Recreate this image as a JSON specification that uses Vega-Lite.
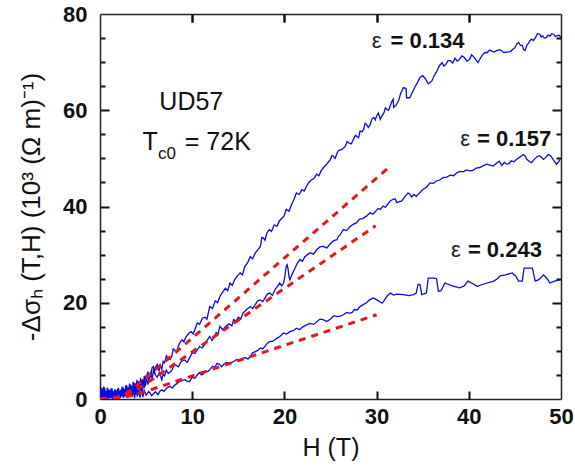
{
  "$schema": "https://vega.github.io/schema/vega-lite/v6.json",
  "width": 461,
  "height": 385,
  "autosize": {"type": "none"},
  "padding": {"left": 100, "top": 14, "right": 14, "bottom": 71},
  "background": "white",
  "config": {"view": {"stroke": null}},
  "datasets": {
    "curves": [
      {"eps":"0.134","H":0,"v":1.5},{"eps":"0.134","H":0.1,"v":0.1},{"eps":"0.134","H":0.2,"v":2.3},{"eps":"0.134","H":0.3,"v":0.4},{"eps":"0.134","H":0.4,"v":2.6},{"eps":"0.134","H":0.5,"v":0.2},{"eps":"0.134","H":0.6,"v":1.7},{"eps":"0.134","H":0.7,"v":0.5},{"eps":"0.134","H":0.8,"v":2.4},{"eps":"0.134","H":0.9,"v":0.1},{"eps":"0.134","H":1.0,"v":1.9},{"eps":"0.134","H":1.1,"v":0.6},{"eps":"0.134","H":1.2,"v":2.2},{"eps":"0.134","H":1.3,"v":0.2},{"eps":"0.134","H":1.4,"v":1.6},{"eps":"0.134","H":1.5,"v":0.4},{"eps":"0.134","H":1.6,"v":2.0},{"eps":"0.134","H":1.7,"v":0.1},{"eps":"0.134","H":1.8,"v":1.5},{"eps":"0.134","H":1.9,"v":0.5},{"eps":"0.134","H":2.0,"v":2.3},{"eps":"0.134","H":2.1,"v":0.3},{"eps":"0.134","H":2.2,"v":1.8},{"eps":"0.134","H":2.3,"v":0.7},{"eps":"0.134","H":2.4,"v":2.6},{"eps":"0.134","H":2.5,"v":0.4},{"eps":"0.134","H":2.6,"v":2.1},{"eps":"0.134","H":2.7,"v":0.8},{"eps":"0.134","H":2.8,"v":2.9},{"eps":"0.134","H":2.9,"v":0.6},{"eps":"0.134","H":3.0,"v":2.4},{"eps":"0.134","H":3.1,"v":1.0},{"eps":"0.134","H":3.2,"v":3.2},{"eps":"0.134","H":3.3,"v":0.7},{"eps":"0.134","H":3.4,"v":2.8},{"eps":"0.134","H":3.5,"v":1.2},{"eps":"0.134","H":3.6,"v":3.6},{"eps":"0.134","H":3.7,"v":1.0},{"eps":"0.134","H":3.8,"v":3.3},{"eps":"0.134","H":3.9,"v":1.5},{"eps":"0.134","H":4.0,"v":4.0},{"eps":"0.134","H":4.1,"v":1.4},{"eps":"0.134","H":4.2,"v":3.7},{"eps":"0.134","H":4.3,"v":2.0},{"eps":"0.134","H":4.4,"v":4.4},{"eps":"0.134","H":4.5,"v":1.8},{"eps":"0.134","H":4.6,"v":4.1},{"eps":"0.134","H":4.7,"v":2.5},{"eps":"0.134","H":4.8,"v":4.8},{"eps":"0.134","H":4.9,"v":2.7},
      {"eps":"0.134","H":5.0,"v":3.5},{"eps":"0.134","H":5.2,"v":5.7},{"eps":"0.134","H":5.35,"v":4.2},{"eps":"0.134","H":5.5,"v":4.8},{"eps":"0.134","H":5.65,"v":6.5},{"eps":"0.134","H":5.8,"v":6.7},{"eps":"0.134","H":5.9,"v":5.2},{"eps":"0.134","H":6.0,"v":6.5},{"eps":"0.134","H":6.2,"v":7.2},{"eps":"0.134","H":6.4,"v":5.8},{"eps":"0.134","H":6.55,"v":7.0},{"eps":"0.134","H":6.7,"v":6.2},{"eps":"0.134","H":6.85,"v":7.8},{"eps":"0.134","H":7.0,"v":7.5},{"eps":"0.134","H":7.2,"v":9.0},{"eps":"0.134","H":7.4,"v":8.5},{"eps":"0.134","H":7.6,"v":8.2},{"eps":"0.134","H":7.8,"v":9.0},{"eps":"0.134","H":7.95,"v":10.4},{"eps":"0.134","H":8.1,"v":10.2},{"eps":"0.134","H":8.3,"v":9.7},{"eps":"0.134","H":8.5,"v":11.0},{"eps":"0.134","H":8.7,"v":11.8},{"eps":"0.134","H":8.9,"v":12.3},{"eps":"0.134","H":9.1,"v":11.9},{"eps":"0.134","H":9.3,"v":12.8},{"eps":"0.134","H":9.6,"v":13.6},{"eps":"0.134","H":9.9,"v":14.0},{"eps":"0.134","H":10.1,"v":13.5},{"eps":"0.134","H":10.3,"v":14.5},{"eps":"0.134","H":10.55,"v":15.8},{"eps":"0.134","H":10.8,"v":15.5},{"eps":"0.134","H":11.1,"v":16.8},{"eps":"0.134","H":11.4,"v":17.0},{"eps":"0.134","H":11.6,"v":16.6},{"eps":"0.134","H":11.9,"v":19.2},{"eps":"0.134","H":12.2,"v":18.8},{"eps":"0.134","H":12.5,"v":20.4},{"eps":"0.134","H":12.75,"v":20.0},{"eps":"0.134","H":13.0,"v":21.3},{"eps":"0.134","H":13.3,"v":22.2},{"eps":"0.134","H":13.6,"v":23.0},{"eps":"0.134","H":13.85,"v":22.5},{"eps":"0.134","H":14.1,"v":24.1},{"eps":"0.134","H":14.35,"v":23.6},{"eps":"0.134","H":14.6,"v":24.8},{"eps":"0.134","H":14.9,"v":25.6},{"eps":"0.134","H":15.2,"v":26.2},{"eps":"0.134","H":15.45,"v":25.8},{"eps":"0.134","H":15.7,"v":27.5},{"eps":"0.134","H":16.0,"v":28.3},{"eps":"0.134","H":16.3,"v":29.6},{"eps":"0.134","H":16.55,"v":29.1},{"eps":"0.134","H":16.8,"v":30.2},{"eps":"0.134","H":17.1,"v":31.0},{"eps":"0.134","H":17.4,"v":31.7},{"eps":"0.134","H":17.55,"v":33.6},{"eps":"0.134","H":17.7,"v":33.5},{"eps":"0.134","H":17.9,"v":33.0},{"eps":"0.134","H":18.1,"v":34.5},{"eps":"0.134","H":18.35,"v":35.2},{"eps":"0.134","H":18.6,"v":34.8},{"eps":"0.134","H":18.9,"v":36.2},{"eps":"0.134","H":19.2,"v":35.9},{"eps":"0.134","H":19.45,"v":37.0},{"eps":"0.134","H":19.7,"v":37.5},{"eps":"0.134","H":19.95,"v":38.0},{"eps":"0.134","H":20.2,"v":39.4},{"eps":"0.134","H":20.5,"v":39.0},{"eps":"0.134","H":20.8,"v":40.5},{"eps":"0.134","H":21.05,"v":41.5},{"eps":"0.134","H":21.3,"v":42.8},{"eps":"0.134","H":21.6,"v":42.5},{"eps":"0.134","H":21.9,"v":43.5},{"eps":"0.134","H":22.15,"v":43.2},{"eps":"0.134","H":22.4,"v":44.2},{"eps":"0.134","H":22.65,"v":45.0},{"eps":"0.134","H":22.9,"v":45.5},{"eps":"0.134","H":23.2,"v":45.8},{"eps":"0.134","H":23.5,"v":46.7},{"eps":"0.134","H":23.75,"v":46.4},{"eps":"0.134","H":24.0,"v":47.5},{"eps":"0.134","H":24.3,"v":48.2},{"eps":"0.134","H":24.6,"v":48.8},{"eps":"0.134","H":24.8,"v":49.3},{"eps":"0.134","H":25.0,"v":49.8},{"eps":"0.134","H":25.15,"v":50.6},{"eps":"0.134","H":25.3,"v":50.5},{"eps":"0.134","H":25.5,"v":50.0},{"eps":"0.134","H":25.7,"v":51.0},{"eps":"0.134","H":25.85,"v":51.6},{"eps":"0.134","H":26.0,"v":51.7},{"eps":"0.134","H":26.3,"v":51.9},{"eps":"0.134","H":26.6,"v":52.5},{"eps":"0.134","H":26.8,"v":53.5},{"eps":"0.134","H":27.0,"v":53.2},{"eps":"0.134","H":27.25,"v":53.0},{"eps":"0.134","H":27.5,"v":54.0},{"eps":"0.134","H":27.7,"v":54.8},{"eps":"0.134","H":27.9,"v":54.5},{"eps":"0.134","H":28.05,"v":54.3},{"eps":"0.134","H":28.2,"v":55.7},{"eps":"0.134","H":28.4,"v":55.5},{"eps":"0.134","H":28.6,"v":56.0},{"eps":"0.134","H":28.75,"v":57.3},{"eps":"0.134","H":28.9,"v":57.1},{"eps":"0.134","H":29.1,"v":56.4},{"eps":"0.134","H":29.3,"v":57.0},{"eps":"0.134","H":29.5,"v":58.2},{"eps":"0.134","H":29.7,"v":58.5},{"eps":"0.134","H":29.85,"v":58.0},{"eps":"0.134","H":30.0,"v":58.8},{"eps":"0.134","H":30.2,"v":59.4},{"eps":"0.134","H":30.4,"v":58.1},{"eps":"0.134","H":30.6,"v":58.9},{"eps":"0.134","H":30.8,"v":59.5},{"eps":"0.134","H":30.95,"v":60.5},{"eps":"0.134","H":31.1,"v":60.2},{"eps":"0.134","H":31.3,"v":60.0},{"eps":"0.134","H":31.5,"v":61.0},{"eps":"0.134","H":31.65,"v":61.8},{"eps":"0.134","H":31.8,"v":62.3},{"eps":"0.134","H":31.85,"v":60.6},{"eps":"0.134","H":32.1,"v":61.0},{"eps":"0.134","H":32.4,"v":62.0},{"eps":"0.134","H":32.6,"v":63.5},{"eps":"0.134","H":32.9,"v":64.7},{"eps":"0.134","H":33.2,"v":64.5},{"eps":"0.134","H":33.25,"v":62.6},{"eps":"0.134","H":33.6,"v":62.6},{"eps":"0.134","H":33.9,"v":63.8},{"eps":"0.134","H":34.2,"v":65.0},{"eps":"0.134","H":34.45,"v":65.8},{"eps":"0.134","H":34.7,"v":66.8},{"eps":"0.134","H":35.0,"v":67.2},{"eps":"0.134","H":35.3,"v":66.5},{"eps":"0.134","H":35.6,"v":65.5},{"eps":"0.134","H":36.0,"v":66.1},{"eps":"0.134","H":36.25,"v":67.2},{"eps":"0.134","H":36.5,"v":68.0},{"eps":"0.134","H":36.8,"v":69.2},{"eps":"0.134","H":37.1,"v":69.9},{"eps":"0.134","H":37.3,"v":69.2},{"eps":"0.134","H":37.5,"v":69.5},{"eps":"0.134","H":37.75,"v":70.3},{"eps":"0.134","H":38.0,"v":70.3},{"eps":"0.134","H":38.25,"v":69.8},{"eps":"0.134","H":38.5,"v":70.8},{"eps":"0.134","H":38.75,"v":70.2},{"eps":"0.134","H":39.0,"v":70.6},{"eps":"0.134","H":39.25,"v":71.3},{"eps":"0.134","H":39.5,"v":71.0},{"eps":"0.134","H":39.8,"v":70.2},{"eps":"0.134","H":40.1,"v":70.6},{"eps":"0.134","H":40.3,"v":71.5},{"eps":"0.134","H":40.5,"v":71.2},{"eps":"0.134","H":40.75,"v":70.5},{"eps":"0.134","H":41.0,"v":69.9},{"eps":"0.134","H":41.25,"v":70.8},{"eps":"0.134","H":41.5,"v":71.5},{"eps":"0.134","H":41.75,"v":72.0},{"eps":"0.134","H":42.0,"v":72.0},{"eps":"0.134","H":42.25,"v":72.5},{"eps":"0.134","H":42.5,"v":72.3},{"eps":"0.134","H":42.75,"v":72.1},{"eps":"0.134","H":43.0,"v":72.4},{"eps":"0.134","H":43.4,"v":72.6},{"eps":"0.134","H":43.8,"v":72.0},{"eps":"0.134","H":44.1,"v":72.1},{"eps":"0.134","H":44.5,"v":72.2},{"eps":"0.134","H":44.75,"v":72.6},{"eps":"0.134","H":45.0,"v":73.0},{"eps":"0.134","H":45.2,"v":73.8},{"eps":"0.134","H":45.4,"v":74.1},{"eps":"0.134","H":45.6,"v":73.5},{"eps":"0.134","H":45.8,"v":73.5},{"eps":"0.134","H":45.95,"v":72.6},{"eps":"0.134","H":46.1,"v":72.4},{"eps":"0.134","H":46.3,"v":73.5},{"eps":"0.134","H":46.5,"v":74.0},{"eps":"0.134","H":46.65,"v":74.5},{"eps":"0.134","H":46.8,"v":74.8},{"eps":"0.134","H":47.0,"v":74.5},{"eps":"0.134","H":47.2,"v":75.0},{"eps":"0.134","H":47.45,"v":75.9},{"eps":"0.134","H":47.7,"v":75.8},{"eps":"0.134","H":47.85,"v":75.2},{"eps":"0.134","H":48.0,"v":75.5},{"eps":"0.134","H":48.2,"v":75.0},{"eps":"0.134","H":48.4,"v":75.1},{"eps":"0.134","H":48.6,"v":75.6},{"eps":"0.134","H":48.8,"v":75.4},{"eps":"0.134","H":49.0,"v":75.9},{"eps":"0.134","H":49.2,"v":75.8},{"eps":"0.134","H":49.4,"v":75.3},{"eps":"0.134","H":49.6,"v":75.5},{"eps":"0.134","H":49.8,"v":75.6},{"eps":"0.134","H":50.0,"v":75.1},

      {"eps":"0.157","H":0,"v":0.8},{"eps":"0.157","H":0.1,"v":2.1},{"eps":"0.157","H":0.2,"v":0.2},{"eps":"0.157","H":0.3,"v":1.7},{"eps":"0.157","H":0.4,"v":0.3},{"eps":"0.157","H":0.5,"v":2.4},{"eps":"0.157","H":0.6,"v":0.5},{"eps":"0.157","H":0.7,"v":1.5},{"eps":"0.157","H":0.8,"v":0.1},{"eps":"0.157","H":0.9,"v":2.0},{"eps":"0.157","H":1.0,"v":0.4},{"eps":"0.157","H":1.1,"v":1.8},{"eps":"0.157","H":1.2,"v":0.2},{"eps":"0.157","H":1.3,"v":2.2},{"eps":"0.157","H":1.4,"v":0.6},{"eps":"0.157","H":1.5,"v":1.4},{"eps":"0.157","H":1.6,"v":0.1},{"eps":"0.157","H":1.7,"v":1.9},{"eps":"0.157","H":1.8,"v":0.3},{"eps":"0.157","H":1.9,"v":2.1},{"eps":"0.157","H":2.0,"v":0.5},{"eps":"0.157","H":2.1,"v":1.6},{"eps":"0.157","H":2.2,"v":0.2},{"eps":"0.157","H":2.3,"v":2.0},{"eps":"0.157","H":2.4,"v":0.6},{"eps":"0.157","H":2.5,"v":2.5},{"eps":"0.157","H":2.6,"v":0.4},{"eps":"0.157","H":2.7,"v":1.9},{"eps":"0.157","H":2.8,"v":0.7},{"eps":"0.157","H":2.9,"v":2.8},{"eps":"0.157","H":3.0,"v":0.5},{"eps":"0.157","H":3.1,"v":2.3},{"eps":"0.157","H":3.2,"v":0.9},{"eps":"0.157","H":3.3,"v":3.0},{"eps":"0.157","H":3.4,"v":0.6},{"eps":"0.157","H":3.5,"v":2.6},{"eps":"0.157","H":3.6,"v":1.1},{"eps":"0.157","H":3.7,"v":3.3},{"eps":"0.157","H":3.8,"v":0.9},{"eps":"0.157","H":3.9,"v":2.9},{"eps":"0.157","H":4.0,"v":1.3},{"eps":"0.157","H":4.1,"v":3.6},{"eps":"0.157","H":4.2,"v":1.2},{"eps":"0.157","H":4.3,"v":3.1},{"eps":"0.157","H":4.4,"v":1.8},{"eps":"0.157","H":4.5,"v":3.9},{"eps":"0.157","H":4.6,"v":1.6},{"eps":"0.157","H":4.7,"v":3.5},{"eps":"0.157","H":4.8,"v":2.3},{"eps":"0.157","H":4.9,"v":4.2},
      {"eps":"0.157","H":5.0,"v":4.8},{"eps":"0.157","H":5.2,"v":3.0},{"eps":"0.157","H":5.35,"v":5.0},{"eps":"0.157","H":5.5,"v":5.5},{"eps":"0.157","H":5.65,"v":4.2},{"eps":"0.157","H":5.8,"v":6.0},{"eps":"0.157","H":6.0,"v":5.0},{"eps":"0.157","H":6.2,"v":4.5},{"eps":"0.157","H":6.45,"v":5.5},{"eps":"0.157","H":6.7,"v":4.0},{"eps":"0.157","H":6.85,"v":5.2},{"eps":"0.157","H":7.0,"v":4.8},{"eps":"0.157","H":7.2,"v":6.0},{"eps":"0.157","H":7.4,"v":5.3},{"eps":"0.157","H":7.6,"v":5.6},{"eps":"0.157","H":7.8,"v":6.0},{"eps":"0.157","H":8.1,"v":7.2},{"eps":"0.157","H":8.5,"v":6.7},{"eps":"0.157","H":8.8,"v":7.8},{"eps":"0.157","H":9.2,"v":8.1},{"eps":"0.157","H":9.45,"v":7.6},{"eps":"0.157","H":9.7,"v":8.5},{"eps":"0.157","H":10.0,"v":9.6},{"eps":"0.157","H":10.3,"v":9.5},{"eps":"0.157","H":10.55,"v":10.2},{"eps":"0.157","H":10.8,"v":10.9},{"eps":"0.157","H":11.1,"v":10.6},{"eps":"0.157","H":11.4,"v":11.5},{"eps":"0.157","H":11.65,"v":12.3},{"eps":"0.157","H":11.9,"v":13.0},{"eps":"0.157","H":12.15,"v":12.2},{"eps":"0.157","H":12.4,"v":12.8},{"eps":"0.157","H":12.6,"v":13.8},{"eps":"0.157","H":12.8,"v":13.5},{"eps":"0.157","H":13.0,"v":15.1},{"eps":"0.157","H":13.3,"v":14.4},{"eps":"0.157","H":13.6,"v":15.0},{"eps":"0.157","H":14.0,"v":15.6},{"eps":"0.157","H":14.3,"v":15.2},{"eps":"0.157","H":14.5,"v":16.5},{"eps":"0.157","H":14.75,"v":16.2},{"eps":"0.157","H":15.0,"v":17.0},{"eps":"0.157","H":15.25,"v":16.6},{"eps":"0.157","H":15.5,"v":17.8},{"eps":"0.157","H":15.9,"v":18.6},{"eps":"0.157","H":16.3,"v":19.2},{"eps":"0.157","H":16.55,"v":18.8},{"eps":"0.157","H":16.8,"v":19.5},{"eps":"0.157","H":17.1,"v":20.4},{"eps":"0.157","H":17.4,"v":20.6},{"eps":"0.157","H":17.65,"v":20.2},{"eps":"0.157","H":17.9,"v":21.0},{"eps":"0.157","H":18.15,"v":21.8},{"eps":"0.157","H":18.4,"v":22.0},{"eps":"0.157","H":18.7,"v":21.5},{"eps":"0.157","H":19.0,"v":22.8},{"eps":"0.157","H":19.25,"v":23.4},{"eps":"0.157","H":19.5,"v":24.1},{"eps":"0.157","H":19.7,"v":23.5},{"eps":"0.157","H":19.9,"v":24.0},{"eps":"0.157","H":20.05,"v":25.5},{"eps":"0.157","H":20.2,"v":27.6},{"eps":"0.157","H":20.3,"v":27.9},{"eps":"0.157","H":20.4,"v":27.0},{"eps":"0.157","H":20.5,"v":25.5},{"eps":"0.157","H":20.6,"v":24.8},{"eps":"0.157","H":20.85,"v":26.0},{"eps":"0.157","H":21.1,"v":27.0},{"eps":"0.157","H":21.4,"v":28.2},{"eps":"0.157","H":21.7,"v":29.0},{"eps":"0.157","H":21.95,"v":28.6},{"eps":"0.157","H":22.2,"v":29.5},{"eps":"0.157","H":22.5,"v":30.0},{"eps":"0.157","H":22.8,"v":30.4},{"eps":"0.157","H":23.15,"v":30.1},{"eps":"0.157","H":23.5,"v":31.0},{"eps":"0.157","H":23.85,"v":31.6},{"eps":"0.157","H":24.2,"v":31.7},{"eps":"0.157","H":24.6,"v":31.4},{"eps":"0.157","H":25.0,"v":32.3},{"eps":"0.157","H":25.35,"v":32.9},{"eps":"0.157","H":25.7,"v":33.1},{"eps":"0.157","H":25.85,"v":33.8},{"eps":"0.157","H":26.0,"v":34.0},{"eps":"0.157","H":26.2,"v":34.6},{"eps":"0.157","H":26.4,"v":35.2},{"eps":"0.157","H":26.75,"v":35.0},{"eps":"0.157","H":27.1,"v":35.8},{"eps":"0.157","H":27.45,"v":36.3},{"eps":"0.157","H":27.8,"v":36.6},{"eps":"0.157","H":28.15,"v":37.4},{"eps":"0.157","H":28.5,"v":37.5},{"eps":"0.157","H":28.9,"v":38.0},{"eps":"0.157","H":29.3,"v":38.7},{"eps":"0.157","H":29.6,"v":38.4},{"eps":"0.157","H":29.9,"v":39.0},{"eps":"0.157","H":30.15,"v":39.6},{"eps":"0.157","H":30.4,"v":39.4},{"eps":"0.157","H":30.7,"v":40.1},{"eps":"0.157","H":30.95,"v":39.8},{"eps":"0.157","H":31.2,"v":40.5},{"eps":"0.157","H":31.5,"v":41.2},{"eps":"0.157","H":31.8,"v":41.5},{"eps":"0.157","H":32.0,"v":41.6},{"eps":"0.157","H":32.2,"v":40.8},{"eps":"0.157","H":32.45,"v":41.0},{"eps":"0.157","H":32.7,"v":41.1},{"eps":"0.157","H":33.05,"v":42.0},{"eps":"0.157","H":33.4,"v":42.8},{"eps":"0.157","H":33.6,"v":42.6},{"eps":"0.157","H":33.8,"v":42.0},{"eps":"0.157","H":34.05,"v":42.5},{"eps":"0.157","H":34.3,"v":42.1},{"eps":"0.157","H":34.65,"v":42.8},{"eps":"0.157","H":35.0,"v":43.5},{"eps":"0.157","H":35.4,"v":44.0},{"eps":"0.157","H":35.8,"v":44.9},{"eps":"0.157","H":36.15,"v":44.8},{"eps":"0.157","H":36.5,"v":45.3},{"eps":"0.157","H":36.85,"v":45.5},{"eps":"0.157","H":37.2,"v":46.0},{"eps":"0.157","H":37.6,"v":46.1},{"eps":"0.157","H":38.0,"v":46.5},{"eps":"0.157","H":38.35,"v":46.4},{"eps":"0.157","H":38.7,"v":47.0},{"eps":"0.157","H":39.05,"v":47.3},{"eps":"0.157","H":39.4,"v":47.2},{"eps":"0.157","H":39.75,"v":47.6},{"eps":"0.157","H":40.1,"v":47.4},{"eps":"0.157","H":40.45,"v":47.5},{"eps":"0.157","H":40.8,"v":48.0},{"eps":"0.157","H":41.2,"v":48.1},{"eps":"0.157","H":41.6,"v":48.5},{"eps":"0.157","H":41.95,"v":48.8},{"eps":"0.157","H":42.3,"v":48.6},{"eps":"0.157","H":42.65,"v":48.4},{"eps":"0.157","H":43.0,"v":49.0},{"eps":"0.157","H":43.3,"v":49.4},{"eps":"0.157","H":43.6,"v":48.5},{"eps":"0.157","H":43.85,"v":49.2},{"eps":"0.157","H":44.1,"v":48.8},{"eps":"0.157","H":44.35,"v":48.9},{"eps":"0.157","H":44.6,"v":49.5},{"eps":"0.157","H":44.9,"v":49.3},{"eps":"0.157","H":45.2,"v":49.8},{"eps":"0.157","H":45.55,"v":50.3},{"eps":"0.157","H":45.9,"v":50.8},{"eps":"0.157","H":46.1,"v":50.5},{"eps":"0.157","H":46.3,"v":49.8},{"eps":"0.157","H":46.55,"v":49.4},{"eps":"0.157","H":46.8,"v":49.1},{"eps":"0.157","H":47.0,"v":49.6},{"eps":"0.157","H":47.2,"v":50.0},{"eps":"0.157","H":47.45,"v":50.4},{"eps":"0.157","H":47.7,"v":50.5},{"eps":"0.157","H":47.9,"v":50.2},{"eps":"0.157","H":48.1,"v":49.8},{"eps":"0.157","H":48.35,"v":50.2},{"eps":"0.157","H":48.6,"v":50.8},{"eps":"0.157","H":48.8,"v":50.7},{"eps":"0.157","H":49.0,"v":50.2},{"eps":"0.157","H":49.25,"v":49.5},{"eps":"0.157","H":49.5,"v":48.8},{"eps":"0.157","H":49.7,"v":49.2},{"eps":"0.157","H":49.9,"v":49.8},

      {"eps":"0.243","H":0,"v":1.2},{"eps":"0.243","H":0.15,"v":0.1},{"eps":"0.243","H":0.3,"v":1.8},{"eps":"0.243","H":0.45,"v":0.4},{"eps":"0.243","H":0.6,"v":1.4},{"eps":"0.243","H":0.75,"v":0.1},{"eps":"0.243","H":0.9,"v":1.9},{"eps":"0.243","H":1.05,"v":0.3},{"eps":"0.243","H":1.2,"v":1.0},{"eps":"0.243","H":1.35,"v":0.0},{"eps":"0.243","H":1.5,"v":1.6},{"eps":"0.243","H":1.65,"v":0.3},{"eps":"0.243","H":1.8,"v":1.3},{"eps":"0.243","H":1.95,"v":0.1},{"eps":"0.243","H":2.1,"v":1.5},{"eps":"0.243","H":2.25,"v":0.4},{"eps":"0.243","H":2.4,"v":2.0},{"eps":"0.243","H":2.55,"v":0.3},{"eps":"0.243","H":2.7,"v":1.8},{"eps":"0.243","H":2.85,"v":0.5},{"eps":"0.243","H":3.0,"v":2.3},{"eps":"0.243","H":3.15,"v":0.6},{"eps":"0.243","H":3.3,"v":2.0},{"eps":"0.243","H":3.45,"v":0.4},{"eps":"0.243","H":3.6,"v":1.8},{"eps":"0.243","H":3.75,"v":0.2},{"eps":"0.243","H":3.9,"v":2.1},{"eps":"0.243","H":4.05,"v":0.5},{"eps":"0.243","H":4.2,"v":1.7},{"eps":"0.243","H":4.35,"v":0.3},{"eps":"0.243","H":4.5,"v":2.2},{"eps":"0.243","H":4.65,"v":0.4},{"eps":"0.243","H":4.8,"v":1.8},
      {"eps":"0.243","H":5.0,"v":0.8},{"eps":"0.243","H":5.3,"v":1.6},{"eps":"0.243","H":5.6,"v":0.7},{"eps":"0.243","H":6.0,"v":1.5},{"eps":"0.243","H":6.3,"v":0.9},{"eps":"0.243","H":6.5,"v":1.6},{"eps":"0.243","H":6.7,"v":1.9},{"eps":"0.243","H":6.95,"v":1.6},{"eps":"0.243","H":7.2,"v":2.2},{"eps":"0.243","H":7.4,"v":2.5},{"eps":"0.243","H":7.6,"v":2.6},{"eps":"0.243","H":7.85,"v":2.3},{"eps":"0.243","H":8.1,"v":2.9},{"eps":"0.243","H":8.35,"v":3.2},{"eps":"0.243","H":8.6,"v":3.6},{"eps":"0.243","H":8.9,"v":3.8},{"eps":"0.243","H":9.2,"v":4.0},{"eps":"0.243","H":9.45,"v":3.7},{"eps":"0.243","H":9.7,"v":3.6},{"eps":"0.243","H":10.0,"v":4.5},{"eps":"0.243","H":10.3,"v":4.3},{"eps":"0.243","H":10.55,"v":5.0},{"eps":"0.243","H":10.8,"v":5.5},{"eps":"0.243","H":11.0,"v":5.0},{"eps":"0.243","H":11.2,"v":5.2},{"eps":"0.243","H":11.45,"v":5.8},{"eps":"0.243","H":11.7,"v":5.7},{"eps":"0.243","H":11.95,"v":6.2},{"eps":"0.243","H":12.2,"v":6.8},{"eps":"0.243","H":12.45,"v":6.6},{"eps":"0.243","H":12.7,"v":7.4},{"eps":"0.243","H":12.95,"v":7.2},{"eps":"0.243","H":13.2,"v":6.7},{"eps":"0.243","H":13.45,"v":7.3},{"eps":"0.243","H":13.7,"v":7.6},{"eps":"0.243","H":14.1,"v":7.4},{"eps":"0.243","H":14.5,"v":7.8},{"eps":"0.243","H":14.85,"v":8.2},{"eps":"0.243","H":15.2,"v":8.0},{"eps":"0.243","H":15.5,"v":8.5},{"eps":"0.243","H":15.8,"v":8.6},{"eps":"0.243","H":16.05,"v":8.3},{"eps":"0.243","H":16.3,"v":8.8},{"eps":"0.243","H":16.55,"v":9.6},{"eps":"0.243","H":16.8,"v":9.8},{"eps":"0.243","H":17.1,"v":10.1},{"eps":"0.243","H":17.4,"v":10.6},{"eps":"0.243","H":17.65,"v":10.4},{"eps":"0.243","H":17.9,"v":11.0},{"eps":"0.243","H":18.15,"v":11.6},{"eps":"0.243","H":18.4,"v":11.9},{"eps":"0.243","H":18.75,"v":12.0},{"eps":"0.243","H":19.1,"v":12.5},{"eps":"0.243","H":19.5,"v":13.0},{"eps":"0.243","H":19.9,"v":13.7},{"eps":"0.243","H":20.25,"v":13.5},{"eps":"0.243","H":20.6,"v":14.0},{"eps":"0.243","H":20.95,"v":14.2},{"eps":"0.243","H":21.3,"v":14.7},{"eps":"0.243","H":21.65,"v":14.4},{"eps":"0.243","H":22.0,"v":15.0},{"eps":"0.243","H":22.4,"v":15.4},{"eps":"0.243","H":22.8,"v":15.7},{"eps":"0.243","H":23.15,"v":15.5},{"eps":"0.243","H":23.5,"v":16.0},{"eps":"0.243","H":23.85,"v":16.6},{"eps":"0.243","H":24.2,"v":16.5},{"eps":"0.243","H":24.6,"v":16.1},{"eps":"0.243","H":25.0,"v":16.6},{"eps":"0.243","H":25.35,"v":17.3},{"eps":"0.243","H":25.7,"v":17.1},{"eps":"0.243","H":26.05,"v":17.2},{"eps":"0.243","H":26.4,"v":17.5},{"eps":"0.243","H":26.75,"v":18.0},{"eps":"0.243","H":27.1,"v":17.8},{"eps":"0.243","H":27.35,"v":18.0},{"eps":"0.243","H":27.6,"v":18.6},{"eps":"0.243","H":27.9,"v":18.5},{"eps":"0.243","H":28.2,"v":19.2},{"eps":"0.243","H":28.55,"v":19.6},{"eps":"0.243","H":28.9,"v":20.0},{"eps":"0.243","H":29.25,"v":20.6},{"eps":"0.243","H":29.6,"v":21.0},{"eps":"0.243","H":29.85,"v":20.8},{"eps":"0.243","H":30.1,"v":20.5},{"eps":"0.243","H":30.35,"v":20.2},{"eps":"0.243","H":30.6,"v":19.9},{"eps":"0.243","H":30.8,"v":20.4},{"eps":"0.243","H":31.0,"v":21.0},{"eps":"0.243","H":31.25,"v":21.6},{"eps":"0.243","H":31.5,"v":22.0},{"eps":"0.243","H":31.85,"v":21.6},{"eps":"0.243","H":32.2,"v":21.8},{"eps":"0.243","H":32.9,"v":21.7},{"eps":"0.243","H":33.5,"v":21.5},{"eps":"0.243","H":34.0,"v":21.7},{"eps":"0.243","H":34.3,"v":22.0},{"eps":"0.243","H":34.5,"v":23.8},{"eps":"0.243","H":34.7,"v":23.8},{"eps":"0.243","H":34.9,"v":21.7},{"eps":"0.243","H":35.4,"v":22.0},{"eps":"0.243","H":35.6,"v":25.1},{"eps":"0.243","H":36.2,"v":25.1},{"eps":"0.243","H":36.5,"v":25.0},{"eps":"0.243","H":36.7,"v":22.4},{"eps":"0.243","H":37.0,"v":22.5},{"eps":"0.243","H":37.4,"v":24.1},{"eps":"0.243","H":38.2,"v":23.5},{"eps":"0.243","H":39.0,"v":23.1},{"eps":"0.243","H":39.5,"v":23.5},{"eps":"0.243","H":39.9,"v":24.5},{"eps":"0.243","H":40.4,"v":24.0},{"eps":"0.243","H":40.9,"v":23.4},{"eps":"0.243","H":41.8,"v":24.0},{"eps":"0.243","H":42.7,"v":24.5},{"eps":"0.243","H":43.1,"v":25.0},{"eps":"0.243","H":43.4,"v":25.6},{"eps":"0.243","H":44.0,"v":25.8},{"eps":"0.243","H":44.7,"v":26.2},{"eps":"0.243","H":45.1,"v":25.5},{"eps":"0.243","H":45.4,"v":24.5},{"eps":"0.243","H":45.8,"v":24.5},{"eps":"0.243","H":46.0,"v":27.2},{"eps":"0.243","H":46.3,"v":27.2},{"eps":"0.243","H":46.9,"v":27.2},{"eps":"0.243","H":47.2,"v":24.5},{"eps":"0.243","H":47.6,"v":24.8},{"eps":"0.243","H":48.1,"v":25.8},{"eps":"0.243","H":48.5,"v":25.0},{"eps":"0.243","H":48.8,"v":24.1},{"eps":"0.243","H":49.3,"v":24.5},{"eps":"0.243","H":49.9,"v":24.8}
    ],
    "fits": [
      {"eps":"0.134","H":0,"v":0},{"eps":"0.134","H":1.5,"v":0.2},{"eps":"0.134","H":2.5,"v":0.8},{"eps":"0.134","H":3.6,"v":2.2},{"eps":"0.134","H":5.0,"v":4.4},{"eps":"0.134","H":10.8,"v":14.0},{"eps":"0.134","H":31.2,"v":47.9},
      {"eps":"0.157","H":0,"v":0},{"eps":"0.157","H":1.5,"v":0.15},{"eps":"0.157","H":2.5,"v":0.6},{"eps":"0.157","H":3.8,"v":1.8},{"eps":"0.157","H":5.0,"v":3.2},{"eps":"0.157","H":11.9,"v":12.3},{"eps":"0.157","H":29.9,"v":36.0},
      {"eps":"0.243","H":0,"v":0},{"eps":"0.243","H":1.5,"v":0.1},{"eps":"0.243","H":2.5,"v":0.35},{"eps":"0.243","H":3.8,"v":0.9},{"eps":"0.243","H":5.0,"v":1.6},{"eps":"0.243","H":10.8,"v":5.3},{"eps":"0.243","H":30.0,"v":17.5}
    ],
    "labels": [
      {"kind":"eps","H":30.0,"v":74.4,"t":"ε"},
      {"kind":"eps","H":39.6,"v":54.0,"t":"ε"},
      {"kind":"eps","H":38.6,"v":31.0,"t":"ε"},
      {"kind":"val","H":31.5,"v":74.4,"t":"= 0.134"},
      {"kind":"val","H":40.9,"v":54.0,"t":"= 0.157"},
      {"kind":"val","H":39.9,"v":31.0,"t":"= 0.243"},
      {"kind":"big","H":9.9,"v":61.8,"t":"UD57"},
      {"kind":"bigl","H":4.6,"v":53.3,"t":"T"},
      {"kind":"bigl","H":9.2,"v":53.3,"t":"= 72K"},
      {"kind":"sub","H":6.3,"v":51.0,"t":"c0"}
    ]
  },
  "layer": [
    {
      "data": {"name": "curves"},
      "mark": {"type": "line", "color": "#0a0ae6", "strokeWidth": 1.3, "clip": true},
      "encoding": {
        "detail": {"field": "eps", "type": "nominal"},
        "x": {"field": "H", "type": "quantitative", "scale": {"domain": [0, 50], "nice": false, "zero": false},
          "axis": {"orient": "bottom", "values": [0, 10, 20, 30, 40, 50], "grid": false, "ticks": false,
            "domainColor": "#222", "domainWidth": 1.5, "labelFont": "Liberation Sans", "labelFontSize": 22, "labelFontWeight": "bold", "labelColor": "#111",
            "labelPadding": 7, "labelFlush": false, "title": "H (T)", "titleFont": "Liberation Sans", "titleFontSize": 25, "titleFontWeight": "normal", "titleColor": "#111", "titlePadding": 8}},
        "y": {"field": "v", "type": "quantitative", "scale": {"domain": [0, 80], "nice": false, "zero": false},
          "axis": {"orient": "left", "values": [0, 20, 40, 60, 80], "grid": false, "ticks": false,
            "domainColor": "#222", "domainWidth": 1.5,
            "labelFont": "Liberation Sans", "labelFontSize": 22, "labelFontWeight": "bold", "labelColor": "#111", "labelPadding": 13, "labelFlush": false,
            "title": "-Δσₕ (T,H) (10³ (Ω m)⁻¹)", "titleFont": "Liberation Sans", "titleFontSize": 26, "titleFontWeight": "normal", "titleColor": "#111", "titlePadding": 18}}
      }
    },
    {
      "data": {"name": "fits"},
      "mark": {"type": "line", "color": "#e8161c", "strokeWidth": 3, "strokeDash": [7, 6], "clip": true},
      "encoding": {
        "detail": {"field": "eps", "type": "nominal"},
        "x": {"field": "H", "type": "quantitative",
          "axis": {"orient": "top", "values": [10, 20, 30, 40], "grid": false, "labels": false, "title": null, "domainColor": "#222", "domainWidth": 1.5,
            "ticks": true, "tickSize": -8, "tickColor": "#111", "tickWidth": 2}},
        "y": {"field": "v", "type": "quantitative",
          "axis": {"orient": "right", "values": [20, 40, 60], "grid": false, "labels": false, "ticks": false, "title": null, "domainColor": "#222", "domainWidth": 1.5}}
      }
    },
    {
      "data": {"name": "labels"},
      "transform": [{"filter": "datum.kind === 'eps'"}],
      "mark": {"type": "text", "font": "Liberation Sans", "fontSize": 22, "fontWeight": "normal", "align": "center", "baseline": "middle", "color": "#222"},
      "encoding": {"text": {"field": "t"},
        "x": {"field": "H", "type": "quantitative",
          "axis": {"orient": "bottom", "offset": -8, "values": [10, 20, 30, 40], "grid": false, "domain": false, "labels": false, "title": null, "ticks": true, "tickSize": 8, "tickColor": "#111", "tickWidth": 2}},
        "y": {"field": "v", "type": "quantitative",
          "axis": {"orient": "left", "offset": -9, "values": [20, 40, 60], "grid": false, "domain": false, "labels": false, "title": null, "ticks": true, "tickSize": 9, "tickColor": "#111", "tickWidth": 2}}}
    },
    {
      "data": {"name": "labels"},
      "transform": [{"filter": "datum.kind === 'val'"}],
      "mark": {"type": "text", "font": "Liberation Sans", "fontSize": 22, "fontWeight": "bold", "align": "left", "baseline": "middle", "color": "#111"},
      "encoding": {"text": {"field": "t"},
        "x": {"field": "H", "type": "quantitative",
          "axis": {"orient": "top", "offset": -8, "values": [10, 20, 30, 40], "grid": false, "domain": false, "labels": false, "title": null, "ticks": true, "tickSize": 8, "tickColor": "#111", "tickWidth": 2}},
        "y": {"field": "v", "type": "quantitative",
          "axis": {"orient": "right", "offset": -9, "values": [20, 40, 60], "grid": false, "domain": false, "labels": false, "title": null, "ticks": true, "tickSize": 9, "tickColor": "#111", "tickWidth": 2}}}
    },
    {
      "data": {"name": "labels"},
      "transform": [{"filter": "datum.kind === 'big'"}],
      "mark": {"type": "text", "font": "Liberation Sans", "fontSize": 25, "fontWeight": "normal", "align": "center", "baseline": "middle", "color": "#111"},
      "encoding": {"text": {"field": "t"},
        "x": {"field": "H", "type": "quantitative", "axis": null},
        "y": {"field": "v", "type": "quantitative",
          "axis": {"orient": "left", "offset": -5, "values": [5, 10, 15, 25, 30, 35, 45, 50, 55, 65, 70, 75], "grid": false, "domain": false, "labels": false, "title": null, "ticks": true, "tickSize": 5, "tickColor": "#111", "tickWidth": 2}}}
    },
    {
      "data": {"name": "labels"},
      "transform": [{"filter": "datum.kind === 'bigl'"}],
      "mark": {"type": "text", "font": "Liberation Sans", "fontSize": 25, "fontWeight": "normal", "align": "left", "baseline": "middle", "color": "#111"},
      "encoding": {"text": {"field": "t"},
        "x": {"field": "H", "type": "quantitative", "axis": null},
        "y": {"field": "v", "type": "quantitative",
          "axis": {"orient": "right", "offset": -5, "values": [5, 10, 15, 25, 30, 35, 45, 50, 55, 65, 70, 75], "grid": false, "domain": false, "labels": false, "title": null, "ticks": true, "tickSize": 5, "tickColor": "#111", "tickWidth": 2}}}
    },
    {
      "data": {"name": "labels"},
      "transform": [{"filter": "datum.kind === 'sub'"}],
      "mark": {"type": "text", "font": "Liberation Sans", "fontSize": 17, "fontWeight": "normal", "align": "left", "baseline": "middle", "color": "#111"},
      "encoding": {"text": {"field": "t"},
        "x": {"field": "H", "type": "quantitative", "axis": null},
        "y": {"field": "v", "type": "quantitative", "axis": null}}
    }
  ],
  "resolve": {"axis": {"x": "independent", "y": "independent"}}
}
